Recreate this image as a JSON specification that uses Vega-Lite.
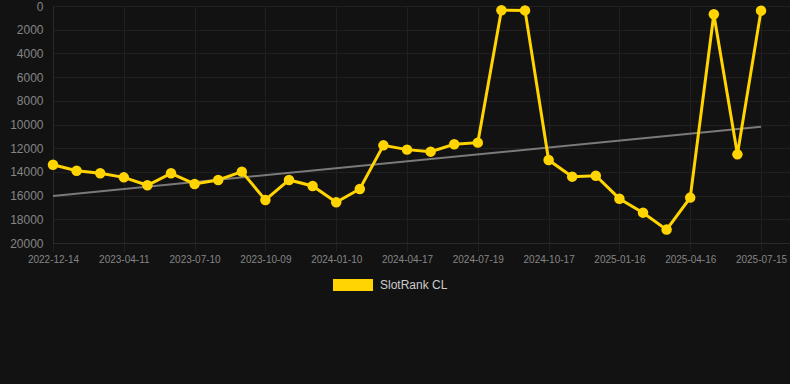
{
  "$schema": "https://vega.github.io/schema/vega-lite/v6.json",
  "width": 737,
  "height": 237,
  "autosize": {"type": "none"},
  "padding": {"left": 53, "top": 6, "right": 0, "bottom": 141},
  "background": "#121212",
  "config": {
    "view": {"stroke": null},
    "font": "Liberation Sans",
    "axis": {"gridColor": "#202020", "gridWidth": 1, "domainColor": "#2a2a2a", "tickColor": "#202020", "labelColor": "#858585"}
  },
  "datasets": {
    "main": [
      {"date": "2022-12-14", "rank": 13400},
      {"date": "2023-01-23", "rank": 13900},
      {"date": "2023-03-03", "rank": 14120},
      {"date": "2023-04-11", "rank": 14460},
      {"date": "2023-05-11", "rank": 15130},
      {"date": "2023-06-10", "rank": 14120},
      {"date": "2023-07-10", "rank": 15020},
      {"date": "2023-08-09", "rank": 14680},
      {"date": "2023-09-08", "rank": 13980},
      {"date": "2023-10-09", "rank": 16370},
      {"date": "2023-11-09", "rank": 14680},
      {"date": "2023-12-10", "rank": 15190},
      {"date": "2024-01-10", "rank": 16570},
      {"date": "2024-02-12", "rank": 15440},
      {"date": "2024-03-15", "rank": 11760},
      {"date": "2024-04-17", "rank": 12120},
      {"date": "2024-05-18", "rank": 12290},
      {"date": "2024-06-18", "rank": 11670},
      {"date": "2024-07-19", "rank": 11530},
      {"date": "2024-08-18", "rank": 360},
      {"date": "2024-09-17", "rank": 370},
      {"date": "2024-10-17", "rank": 13000},
      {"date": "2024-11-16", "rank": 14400},
      {"date": "2024-12-16", "rank": 14320},
      {"date": "2025-01-16", "rank": 16260},
      {"date": "2025-02-15", "rank": 17440},
      {"date": "2025-03-17", "rank": 18870},
      {"date": "2025-04-16", "rank": 16170},
      {"date": "2025-05-16", "rank": 700},
      {"date": "2025-06-15", "rank": 12520},
      {"date": "2025-07-15", "rank": 390}
    ],
    "trend": [
      {"date": "2022-12-14", "rank": 16030},
      {"date": "2025-07-15", "rank": 10180}
    ]
  },
  "encoding": {
    "x": {
      "field": "date",
      "type": "ordinal",
      "sort": "ascending",
      "scale": {"type": "point", "padding": 0.614, "align": 0},
      "axis": {
        "title": null,
        "values": ["2022-12-14", "2023-04-11", "2023-07-10", "2023-10-09", "2024-01-10", "2024-04-17", "2024-07-19", "2024-10-17", "2025-01-16", "2025-04-16", "2025-07-15"],
        "labelAngle": 0,
        "labelFontSize": 10,
        "tickSize": 8,
        "labelPadding": 3,
        "grid": true,
        "domain": true
      }
    },
    "y": {
      "field": "rank",
      "type": "quantitative",
      "scale": {"domain": [0, 20000], "reverse": true, "nice": false},
      "axis": {
        "title": null,
        "values": [0, 2000, 4000, 6000, 8000, 10000, 12000, 14000, 16000, 18000, 20000],
        "format": "d",
        "labelFontSize": 12,
        "ticks": false,
        "labelPadding": 10,
        "grid": true,
        "domain": true
      }
    }
  },
  "layer": [
    {
      "data": {"name": "trend"},
      "mark": {"type": "line", "color": "#7a7a7a", "strokeWidth": 2}
    },
    {
      "data": {"name": "main"},
      "mark": {"type": "line", "strokeWidth": 3, "point": {"filled": true, "size": 110}},
      "encoding": {
        "color": {
          "datum": "SlotRank CL",
          "type": "nominal",
          "scale": {"range": ["#FFD400"]},
          "legend": {
            "title": null,
            "orient": "none",
            "legendX": 280,
            "legendY": 259,
            "symbolType": "M-1,-0.3H1V0.3H-1Z",
            "symbolSize": 1600,
            "symbolStrokeWidth": 0,
            "labelColor": "#cccccc",
            "labelFontSize": 12,
            "labelOffset": 7
          }
        }
      }
    }
  ]
}
